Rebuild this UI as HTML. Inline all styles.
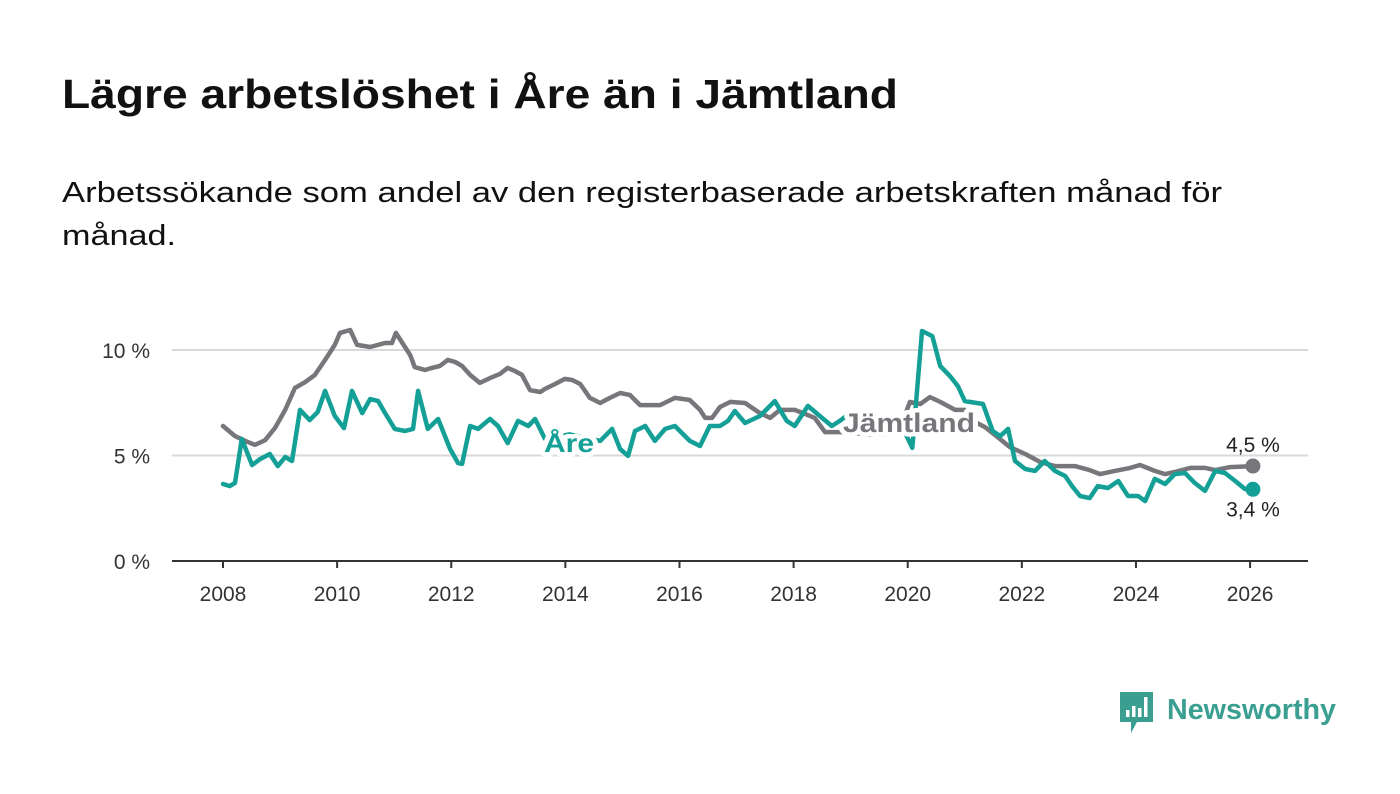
<!DOCTYPE html>
<html><head><meta charset="utf-8"><style>
html,body{margin:0;padding:0;background:#fff;}
svg{display:block;font-family:"Liberation Sans",sans-serif;}
</style></head><body>
<svg id="chart" width="1400" height="794" viewBox="0 0 1400 794" xmlns="http://www.w3.org/2000/svg">
<text x="62" y="108" font-size="41" font-weight="bold" fill="#111" textLength="836" lengthAdjust="spacingAndGlyphs">Lägre arbetslöshet i Åre än i Jämtland</text>
<text x="62" y="202" font-size="29" fill="#111" textLength="1160" lengthAdjust="spacingAndGlyphs">Arbetssökande som andel av den registerbaserade arbetskraften månad för</text>
<text x="62" y="245" font-size="29" fill="#111" textLength="114" lengthAdjust="spacingAndGlyphs">månad.</text>
<g id="grid"></g>
<g id="series"></g>
<g id="labels"></g>
<g>
<path d="M1120 692 h33 v30 h-16 l-6 11 v-11 h-11 z" fill="#3a9e91"/>
<rect x="1126" y="710" width="3.5" height="7" fill="#fff"/><rect x="1132" y="706" width="3.5" height="11" fill="#fff"/><rect x="1138" y="708" width="3.5" height="9" fill="#fff"/><rect x="1144" y="697" width="3.5" height="20" fill="#fff"/>
<text x="1167" y="719" font-size="29" font-weight="bold" fill="#3a9e91" textLength="169" lengthAdjust="spacingAndGlyphs">Newsworthy</text>
</g>
</svg>
<script>
const yTicks = [0, 5, 10];
const yTickLabels = ["0 %", "5 %", "10 %"];
const xTicks = [2008, 2010, 2012, 2014, 2016, 2018, 2020, 2022, 2024, 2026];
const jamYears = [2008.0,2008.21,2008.39,2008.56,2008.74,2008.91,2009.09,2009.26,2009.44,2009.61,2009.79,2009.96,2010.05,2010.23,2010.35,2010.58,2010.84,2010.96,2011.03,2011.28,2011.36,2011.54,2011.66,2011.80,2011.94,2012.07,2012.19,2012.33,2012.50,2012.68,2012.85,2012.99,2013.12,2013.24,2013.38,2013.56,2013.64,2013.82,2013.99,2014.12,2014.26,2014.43,2014.61,2014.78,2014.96,2015.13,2015.31,2015.66,2015.92,2016.18,2016.36,2016.45,2016.57,2016.71,2016.89,2017.15,2017.41,2017.59,2017.76,2018.02,2018.20,2018.37,2018.55,2018.81,2019.34,2019.86,2020.04,2020.22,2020.39,2020.57,2020.83,2021.00,2021.18,2021.35,2021.53,2021.79,2022.06,2022.32,2022.58,2022.93,2023.19,2023.37,2023.63,2023.90,2024.07,2024.33,2024.51,2024.68,2024.95,2025.21,2025.39,2025.65,2026.05];
const jamValues = [6.40,5.92,5.69,5.50,5.73,6.30,7.16,8.20,8.48,8.82,9.53,10.24,10.81,10.95,10.24,10.14,10.33,10.33,10.81,9.76,9.19,9.05,9.15,9.24,9.53,9.43,9.24,8.82,8.44,8.67,8.86,9.15,9.00,8.82,8.10,8.01,8.15,8.39,8.63,8.58,8.39,7.73,7.49,7.73,7.96,7.87,7.39,7.39,7.73,7.63,7.16,6.78,6.78,7.30,7.54,7.49,7.01,6.78,7.16,7.16,6.97,6.78,6.11,6.11,6.0,6.3,7.54,7.44,7.77,7.54,7.16,7.16,6.59,6.35,5.97,5.40,5.07,4.69,4.50,4.50,4.31,4.12,4.27,4.41,4.55,4.27,4.12,4.22,4.41,4.41,4.31,4.45,4.5];
const areYears = [2008.0,2008.12,2008.21,2008.33,2008.51,2008.65,2008.82,2008.96,2009.09,2009.21,2009.35,2009.52,2009.66,2009.79,2009.96,2010.12,2010.26,2010.44,2010.58,2010.72,2010.84,2011.01,2011.19,2011.33,2011.42,2011.59,2011.77,2011.98,2012.12,2012.19,2012.33,2012.47,2012.68,2012.82,2012.99,2013.17,2013.35,2013.47,2013.64,2014.08,2014.61,2014.82,2014.96,2015.10,2015.22,2015.40,2015.57,2015.75,2015.92,2016.18,2016.36,2016.53,2016.71,2016.85,2016.97,2017.15,2017.41,2017.67,2017.88,2018.02,2018.25,2018.46,2018.67,2018.81,2018.99,2019.51,2019.95,2020.08,2020.25,2020.43,2020.57,2020.74,2020.88,2021.00,2021.32,2021.49,2021.62,2021.76,2021.88,2022.06,2022.23,2022.40,2022.58,2022.76,2022.88,2023.02,2023.19,2023.33,2023.51,2023.69,2023.86,2024.04,2024.16,2024.33,2024.51,2024.68,2024.86,2025.03,2025.21,2025.39,2025.56,2025.74,2025.91,2026.05];
const areValues = [3.65,3.55,3.70,5.78,4.55,4.83,5.07,4.50,4.93,4.74,7.16,6.68,7.06,8.06,6.87,6.30,8.06,7.01,7.68,7.58,7.01,6.26,6.16,6.26,8.06,6.26,6.73,5.31,4.64,4.60,6.40,6.26,6.73,6.40,5.59,6.64,6.40,6.73,5.8,6.0,5.69,6.26,5.31,4.98,6.16,6.40,5.69,6.26,6.40,5.69,5.45,6.40,6.40,6.64,7.11,6.54,6.87,7.58,6.64,6.40,7.35,6.87,6.40,6.64,7.01,6.0,6.1,5.36,10.90,10.66,9.24,8.77,8.29,7.58,7.44,6.16,5.92,6.26,4.74,4.36,4.27,4.74,4.27,4.03,3.55,3.08,2.98,3.55,3.46,3.79,3.08,3.08,2.84,3.89,3.65,4.12,4.17,3.70,3.32,4.27,4.17,3.79,3.41,3.4];
const jamEndLabel = "4,5 %";
const areEndLabel = "3,4 %";

const NS = "http://www.w3.org/2000/svg";
const x = yr => 223 + (yr - 2008) * 57.06;
const y = v => 561 - v * 21.1;
function mk(tag, attrs, parent, text) {
  const e = document.createElementNS(NS, tag);
  for (const k in attrs) e.setAttribute(k, attrs[k]);
  if (text !== undefined) e.textContent = text;
  parent.appendChild(e);
  return e;
}
const grid = document.getElementById('grid');
yTicks.forEach((t, i) => {
  if (t > 0) {
    const g = mk('line', {x1:172, x2:1308, y1:y(t), y2:y(t), stroke:'#d9d9d9', 'stroke-width':2}, grid);
    
    
  }
  const l = mk('text', {x:150, y:y(t)+8, 'font-size':21, fill:'#333', 'text-anchor':'end'}, grid, yTickLabels[i]);
  
  
});
const ax = mk('line', {x1:172, x2:1308, y1:y(0), y2:y(0), stroke:'#333', 'stroke-width':2}, grid);


xTicks.forEach(t => {
  const tk = mk('line', {x1:x(t), x2:x(t), y1:y(0), y2:y(0)+7, stroke:'#333', 'stroke-width':2}, grid);
  
  
  const l = mk('text', {x:x(t), y:601, 'font-size':21, fill:'#333', 'text-anchor':'middle'}, grid, String(t));
  
  
});
const series = document.getElementById('series');
function line(xs, vs, color, name) {
  const d = xs.map((t, i) => (i ? 'L' : 'M') + x(t).toFixed(1) + ' ' + y(vs[i]).toFixed(1)).join(' ');
  const p = mk('path', {d:d, fill:'none', stroke:color, 'stroke-width':4.5, 'stroke-linejoin':'round', 'stroke-linecap':'round'}, series);
  
  
  const n = xs.length - 1;
  const c = mk('circle', {cx:x(xs[n]), cy:y(vs[n]), r:7.5, fill:color}, series);
  
  
}
line(jamYears, jamValues, '#77767b', 'jamtland-line');
line(areYears, areValues, '#14a096', 'are-line');
const labels = document.getElementById('labels');
const jl = mk('text', {x:843, y:432, 'font-size':27, 'font-weight':'bold', fill:'#77767b', stroke:'#fff', 'stroke-width':9, 'paint-order':'stroke', 'stroke-linejoin':'round', textLength:132, lengthAdjust:'spacingAndGlyphs'}, labels, 'Jämtland');


const al = mk('text', {x:544, y:452, 'font-size':26, 'font-weight':'bold', fill:'#14a096', stroke:'#fff', 'stroke-width':9, 'paint-order':'stroke', 'stroke-linejoin':'round', textLength:50, lengthAdjust:'spacingAndGlyphs'}, labels, 'Åre');


const n1 = jamYears.length - 1;
const je = mk('text', {x:x(jamYears[n1]), y:y(jamValues[n1]) - 14, 'font-size':21, fill:'#222', 'text-anchor':'middle'}, labels, jamEndLabel);


const n2 = areYears.length - 1;
const ae = mk('text', {x:x(areYears[n2]), y:y(areValues[n2]) + 27, 'font-size':21, fill:'#222', 'text-anchor':'middle'}, labels, areEndLabel);


</script>
</body></html>
